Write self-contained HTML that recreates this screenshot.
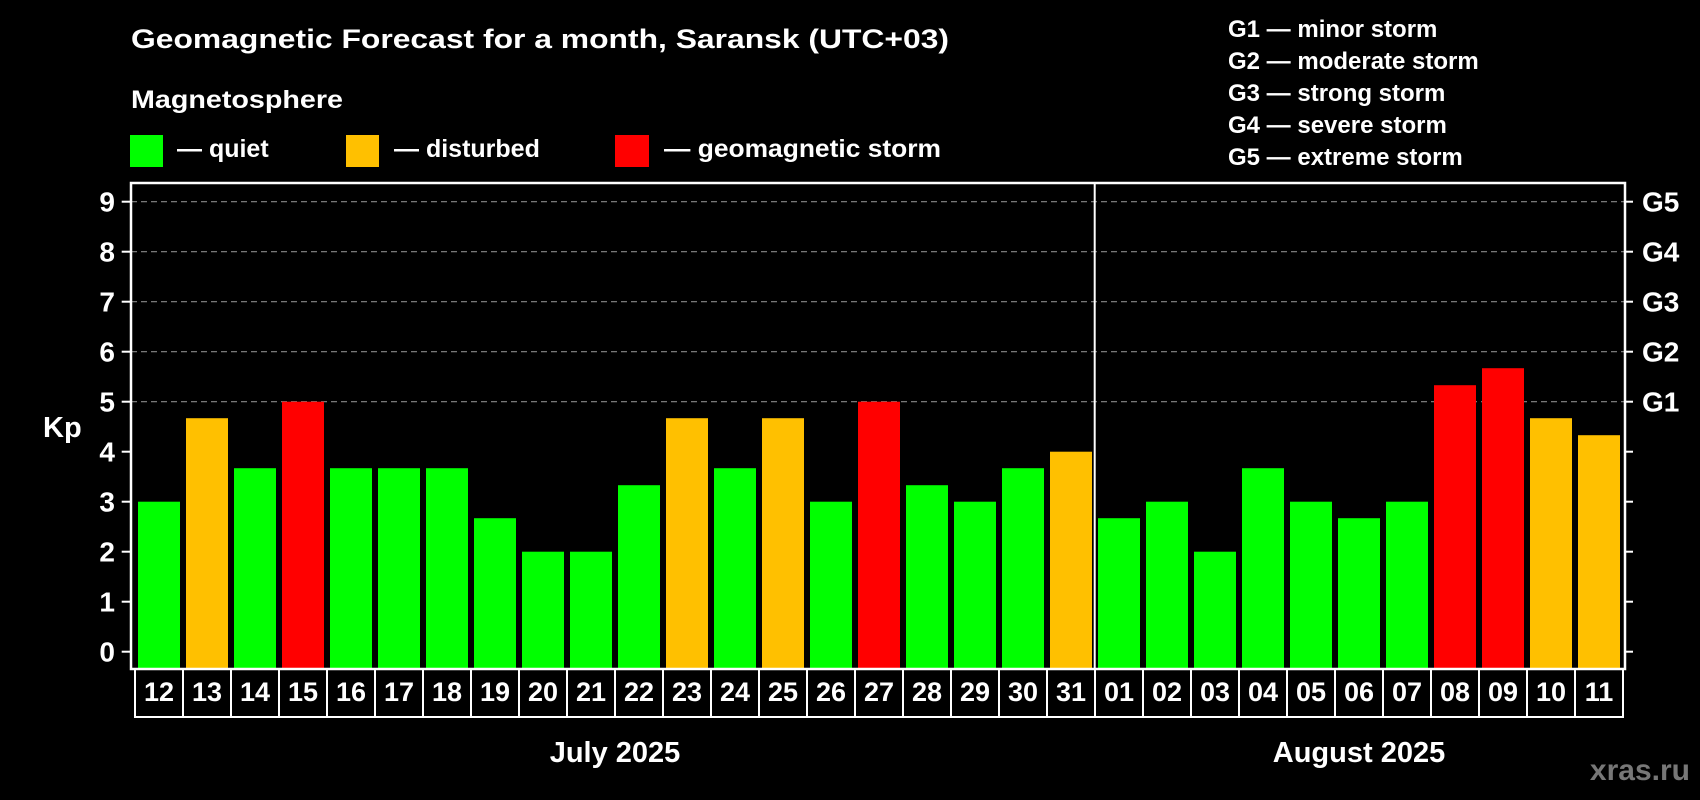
<!DOCTYPE html>
<html><head><meta charset="utf-8"><style>
html,body{margin:0;padding:0;background:#000;width:1700px;height:800px;overflow:hidden}
text{font-family:"Liberation Sans",sans-serif;font-weight:bold;fill:#fff}
</style></head><body>
<svg id="chart" width="1700" height="800" viewBox="0 0 1700 800" xmlns="http://www.w3.org/2000/svg">
<rect width="1700" height="800" fill="#000"/>
<text x="131" y="48" font-size="27" textLength="818" lengthAdjust="spacingAndGlyphs">Geomagnetic Forecast for a month, Saransk (UTC+03)</text>
<text x="131" y="108" font-size="25" textLength="212" lengthAdjust="spacingAndGlyphs">Magnetosphere</text>
<g><rect x="130" y="135" width="33" height="32" fill="#00ff00"/><text x="177" y="157" font-size="25">— quiet</text></g>
<g><rect x="346" y="135" width="33" height="32" fill="#ffc000"/><text x="394" y="157" font-size="25">— disturbed</text></g>
<g><rect x="615" y="135" width="34" height="32" fill="#ff0000"/><text x="664" y="157" font-size="25" textLength="277" lengthAdjust="spacingAndGlyphs">— geomagnetic storm</text></g>
<g font-size="24">
<text x="1228" y="37">G1 — minor storm</text>
<text x="1228" y="69">G2 — moderate storm</text>
<text x="1228" y="101">G3 — strong storm</text>
<text x="1228" y="133">G4 — severe storm</text>
<text x="1228" y="165">G5 — extreme storm</text>
</g>
<text x="43" y="437" font-size="29">Kp</text>
<g id="grid"></g><g id="bars"></g><g id="axes"></g>
<text x="615" y="762" font-size="29" text-anchor="middle">July 2025</text>
<text x="1359" y="762" font-size="29" text-anchor="middle">August 2025</text>
<text x="1690" y="780" font-size="30" text-anchor="end" style="fill:#777">xras.ru</text>
</svg>
<script>
const days=["12","13","14","15","16","17","18","19","20","21","22","23","24","25","26","27","28","29","30","31","01","02","03","04","05","06","07","08","09","10","11"];
const kp=[3,4.67,3.67,5,3.67,3.67,3.67,2.67,2,2,3.33,4.67,3.67,4.67,3,5,3.33,3,3.67,4,2.67,3,2,3.67,3,2.67,3,5.33,5.67,4.67,4.33];
const yTicks=[0,1,2,3,4,5,6,7,8,9];
const gLabels=["G1","G2","G3","G4","G5"];
const NS="http://www.w3.org/2000/svg";
const X0=135,SLOT=48,L=131,R=1625,T=183,B=669;
const y=v=>651.7-v*50;
const x=i=>X0+i*SLOT;
function mk(tag,attrs,parent,txt){const e=document.createElementNS(NS,tag);for(const k in attrs)e.setAttribute(k,attrs[k]);if(txt!==undefined)e.textContent=txt;parent.appendChild(e);return e;}
const grid=document.getElementById('grid'),bars=document.getElementById('bars'),axes=document.getElementById('axes');
yTicks.forEach(v=>{
 if(v>=5){const g=mk('line',{x1:L,x2:R,y1:y(v),y2:y(v),stroke:'#888','stroke-width':1.2,'stroke-dasharray':'6 4'},grid);
 
 }
 const t=mk('line',{x1:121.7,x2:L,y1:y(v),y2:y(v),stroke:'#fff','stroke-width':2},axes);
 
 
 const t2=mk('line',{x1:R,x2:1633,y1:y(v),y2:y(v),stroke:'#fff','stroke-width':2},axes);
 
 
 const lb=mk('text',{x:115,y:y(v)+10,'font-size':28,'text-anchor':'end'},axes,String(v));
 
 
});
gLabels.forEach((g,i)=>{
 const lb=mk('text',{x:1642,y:y(5+i)+10,'font-size':28},axes,g);
 
 
});
kp.forEach((v,i)=>{
 const c=v>=5?'#ff0000':(v>=4?'#ffc000':'#00ff00');
 const b=mk('rect',{x:x(i)+3,y:y(v),width:42,height:B-1-y(v),fill:c},bars);
 
 
 const bx=mk('rect',{x:x(i),y:B,width:SLOT,height:48,fill:'none',stroke:'#fff','stroke-width':2},axes);
 
 
 const lb=mk('text',{x:x(i)+SLOT/2,y:701,'font-size':27,'text-anchor':'middle'},axes,days[i]);
 
 
});
const fr=mk('rect',{x:L,y:T,width:R-L,height:B-T,fill:'none',stroke:'#fff','stroke-width':2.5},axes);


const sep=mk('line',{x1:x(20)-0.3,x2:x(20)-0.3,y1:T,y2:B,stroke:'#fff','stroke-width':2},axes);


</script>
</body></html>
